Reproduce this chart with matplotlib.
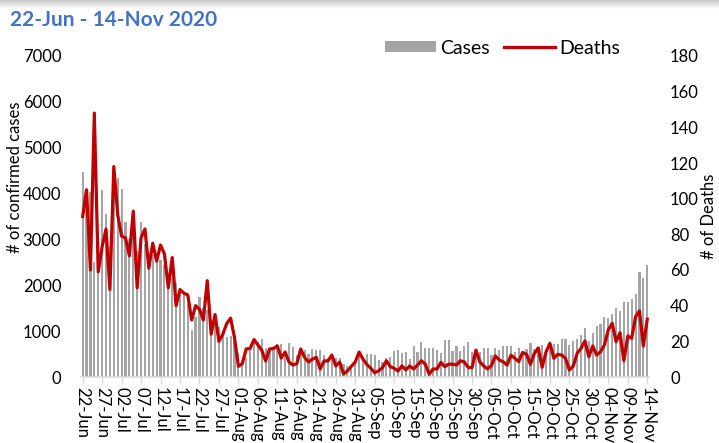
import numpy as np
import matplotlib
matplotlib.use('Agg')
import matplotlib.pyplot as plt
from matplotlib.patches import Patch
from matplotlib.lines import Line2D

plt.rcParams['font.family'] = ['Lato', 'DejaVu Sans']

title = '22-Jun - 14-Nov 2020'

tick_labels = ['22-Jun', '27-Jun', '02-Jul', '07-Jul', '12-Jul', '17-Jul', '22-Jul', '27-Jul',
               '01-Aug', '06-Aug', '11-Aug', '16-Aug', '21-Aug', '26-Aug', '31-Aug', '05-Sep',
               '10-Sep', '15-Sep', '20-Sep', '25-Sep', '30-Sep', '05-Oct', '10-Oct', '15-Oct',
               '20-Oct', '25-Oct', '30-Oct', '04-Nov', '09-Nov', '14-Nov']

cases = [4460, 3900, 4040, 2500, 3130, 4080, 3550, 2860, 4140, 4340,
         4100, 3370, 3000, 3380, 2750, 3380, 2900, 2700, 2650, 2500,
         2550, 2450, 2200, 2130, 2060, 1950, 1800, 1590, 1020, 1310,
         1750, 1500, 1470, 1250, 1180, 1100, 950, 880, 890, 780,
         530, 313, 422, 625, 785, 763, 821, 625, 596, 640,
         712, 727, 531, 734, 654, 472, 567, 596, 494, 610,
         581, 596, 480, 422, 450, 422, 407, 290, 240, 203,
         290, 450, 422, 495, 510, 473, 379, 327, 422, 436,
         560, 582, 523, 545, 400, 669, 545, 757, 641, 641,
         641, 582, 523, 800, 800, 567, 669, 567, 669, 757,
         538, 582, 545, 641, 641, 473, 626, 582, 669, 669,
         669, 550, 640, 520, 600, 740, 620, 620, 700, 615,
         725, 725, 725, 830, 830, 700, 775, 830, 905, 1065,
         795, 965, 1120, 1160, 1305, 1290, 1370, 1500, 1440, 1645,
         1625, 1710, 1810, 2300, 2155, 2440]

deaths = [90, 105, 60, 148, 59, 73, 83, 49, 118, 91,
          79, 78, 68, 93, 50, 78, 83, 61, 75, 65,
          74, 69, 50, 67, 40, 49, 47, 46, 32, 40,
          38, 32, 54, 24, 35, 20, 24, 30, 33, 22,
          6, 7.5, 15.7, 16, 21, 18, 15, 9, 15.7, 16,
          17.4, 10.6, 14, 8.4, 6.7, 7.5, 15.7, 11, 8.4, 10,
          11, 4.5, 9, 9, 12.3, 6.2, 8.4, 1.7, 3.4, 6,
          8.4, 14, 10, 7, 4.9, 2.4, 3.5, 5.2, 9.1, 5.8,
          4.9, 3.4, 6.2, 4, 6.2, 4.5, 6.7, 9.1, 7.2, 1.5,
          4.5, 4.5, 8.2, 5.8, 7.2, 7.2, 6.7, 9.1, 8.5, 5.4,
          5.2, 15.1, 8.5, 6.2, 4.5, 6.5, 11.8, 9.5, 8.5, 6.7,
          12.2, 10.5, 8.6, 13.8, 12.7, 7.1, 13.2, 16.3, 5.4, 14,
          18.9, 10.5, 12.7, 12.3, 10.5, 3.9, 6.2, 13.3, 16.1, 20.2,
          11.4, 17.4, 12.3, 14.2, 17.9, 26.4, 30.1, 19.8, 24.8, 9.1,
          23, 21.7, 33.8, 37, 17.4, 32.4]

W, H = 719, 443
fig = plt.figure(figsize=(W / 100, H / 100), dpi=100)

# top shadow band
sh = fig.add_axes([0, 1 - 9 / H, 1, 9 / H])
grad = np.linspace(0.78, 1.0, 50).reshape(-1, 1)
sh.imshow(grad, aspect='auto', cmap='gray', vmin=0, vmax=1, extent=[0, 1, 0, 1])
sh.axis('off')

left, right = 80.7 / W, 649.2 / W
bottom, top = 1 - 377 / H, 1 - 56 / H
ax = fig.add_axes([left, bottom, right - left, top - bottom])
x = np.arange(len(cases))
ax.bar(x, cases, width=0.55, color='#A5A5A5', zorder=2)
ax.set_xlim(-0.5, len(cases) - 0.5)
ax.set_ylim(0, 7000)
ax.set_yticks(np.arange(0, 7001, 1000))
ax.set_xticks(x[::5])
ax.set_xticklabels(tick_labels, rotation=-90, fontsize=12)
for s in ['top', 'left', 'right']:
    ax.spines[s].set_visible(False)
ax.spines['bottom'].set_color('#D9D9D9')
ax.spines['bottom'].set_linewidth(1.2)
ax.tick_params(axis='x', length=5, color='#D9D9D9', width=1, pad=2)
ax.tick_params(axis='y', length=0, pad=14, labelsize=12)

ax2 = ax.twinx()
ax2.plot(x, deaths, color='#C00000', lw=2.3, zorder=3)
ax2.set_ylim(0, 180)
ax2.set_yticks(np.arange(0, 181, 20))
for s in ax2.spines.values():
    s.set_visible(False)
ax2.tick_params(axis='y', length=0, pad=15, labelsize=12)
ax2.set_xlim(-0.5, len(cases) - 0.5)

fig.text(10 / W, 1 - 20 / H, title, color='#4472C4', fontweight='bold',
         fontsize=15, va='center', ha='left')
fig.text(15 / W, 1 - 177 / H, '# of confirmed cases', rotation=90,
         va='center', ha='center', fontsize=12)
fig.text(709.5 / W, 1 - 216 / H, '# of Deaths', rotation=90,
         va='center', ha='center', fontsize=12)

handles = [Patch(facecolor='#A5A5A5', edgecolor='none'),
           Line2D([0], [0], color='#C00000', lw=2.3)]
fig.legend(handles, ['Cases', 'Deaths'], ncol=2, frameon=False,
           loc='center left', bbox_to_anchor=(385 / W, 1 - 48 / H),
           fontsize=14, handlelength=2.62, handleheight=0.5,
           handletextpad=0.2, columnspacing=0.75, borderpad=0, borderaxespad=0)

fig.savefig('out.png', dpi=100)
